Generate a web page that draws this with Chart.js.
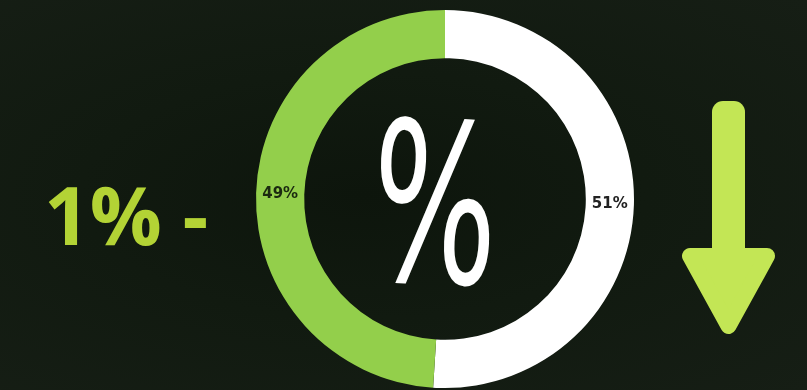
<!DOCTYPE html>
<html>
<head>
<meta charset="utf-8">
<script src="https://cdn.jsdelivr.net/npm/chart.js@4"></script>
<style>
  html, body { margin: 0; padding: 0; }
  body { width: 807px; height: 390px; overflow: hidden; position: relative;
    background: radial-gradient(ellipse at 45% 50%, #0d150c 0%, #111a10 45%, #161e15 100%); }
  #wrap { position: absolute; left: 0; top: 0; width: 807px; height: 390px; }
  #lead { position: absolute; left: 44px; top: 164px; font-family: "Open Sans", sans-serif;
    font-weight: 700; font-size: 80px; line-height: 100px; color: #b3d335; white-space: pre; }
  #arrow { position: absolute; left: 0; top: 0; }
</style>
</head>
<body>
<div id="wrap"><canvas id="c" width="807" height="390"></canvas></div>
<div id="lead">1% -</div>
<svg id="arrow" width="807" height="390">
  <rect x="712" y="101" width="33" height="160" rx="11" fill="#c3e655"/>
  <polygon points="690,256 767,256 728.5,326" fill="#c3e655" stroke="#c3e655" stroke-width="16" stroke-linejoin="round"/>
</svg>
<script>
const categories = ["Other", "Share"];
const values = [51, 49];
const valueLabels = ["51%", "49%"];
const centerSymbol = "%";

const segColors = ["#ffffff", "#93cf4b"];
const labelColors = ["#222222", "#1b2a10"];

const labelPlugin = {
  id: "labels",
  afterDatasetsDraw(chart) {
    const ctx = chart.ctx;
    const meta = chart.getDatasetMeta(0);
    ctx.save();
    ctx.font = "bold 15px 'DejaVu Sans', sans-serif";
    ctx.textAlign = "center";
    ctx.textBaseline = "middle";
    meta.data.forEach((arc, i) => {
      const p = arc.tooltipPosition();
      ctx.fillStyle = labelColors[i];
      ctx.fillText(valueLabels[i], p.x, p.y);
    });
    ctx.restore();
    // center symbol
    ctx.save();
    const a = meta.data[0];
    ctx.font = "200px 'DejaVu Sans', sans-serif";
    ctx.textAlign = "center";
    ctx.textBaseline = "alphabetic";
    const m = ctx.measureText(centerSymbol);
    const w = m.actualBoundingBoxLeft + m.actualBoundingBoxRight;
    const h = m.actualBoundingBoxAscent + m.actualBoundingBoxDescent;
    const tw = 112, th = 168;
    ctx.translate(a.x - 10, a.y + 2);
    ctx.rotate(0.05);
    ctx.scale(tw / w, th / h);
    ctx.fillStyle = "#ffffff";
    ctx.fillText(centerSymbol, 0, (m.actualBoundingBoxAscent - m.actualBoundingBoxDescent) / 2);
    ctx.restore();
  }
};

new Chart(document.getElementById("c"), {
  type: "doughnut",
  data: {
    labels: categories,
    datasets: [{
      data: values,
      backgroundColor: segColors,
      borderWidth: 0
    }]
  },
  options: {
    responsive: false,
    animation: false,
    cutout: "74.5%",
    layout: { padding: { left: 256, right: 173, top: 10, bottom: 2 } },
    plugins: { legend: { display: false }, tooltip: { enabled: false } }
  },
  plugins: [labelPlugin]
});
</script>
</body>
</html>
